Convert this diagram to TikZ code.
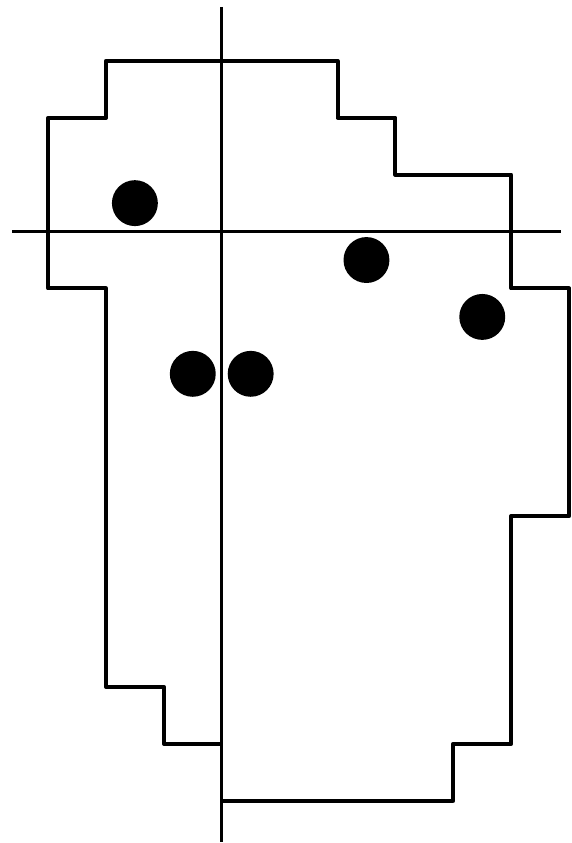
\documentclass[tikz,border=0pt]{standalone}
\usepackage{tikz}
\tikzset{
    axisline/.style={
        draw=black,
        line width=0.85pt
    },
    outline/.style={
        draw=black,
        line width=1.15pt,
        line join=round
    },
    dot/.style={
        circle,
        fill=black,
        minimum size=4.6mm,
        inner sep=0pt
    }
}

\begin{document}
\begin{tikzpicture}[x=0.58cm, y=0.57cm]
    % Axes
    \coordinate (axisTop)    at (0, 3.95);
    \coordinate (axisBottom) at (0, -10.72);
    \coordinate (axisLeft)   at (-3.62, 0);
    \coordinate (axisRight)  at (5.86, 0);
    \draw[axisline] (axisTop) -- (axisBottom);
    \draw[axisline] (axisLeft) -- (axisRight);

    % Region outline (closed along the vertical axis)
    \draw[outline] (0,-9) -- (-1,-9) -- (-1,-8) -- (-2,-8) -- (-2,-1)
                   -- (-3,-1) -- (-3,2) -- (-2,2) -- (-2,3) -- (2,3)
                   -- (2,2) -- (3,2) -- (3,1) -- (5,1) -- (5,-1)
                   -- (6,-1) -- (6,-5) -- (5,-5) -- (5,-9) -- (4,-9)
                   -- (4,-10) -- (0,-10);

    % Points
    \node[dot] (pA) at (-1.5, 0.5)  {};
    \node[dot] (pB) at (2.5, -0.5)  {};
    \node[dot] (pC) at (4.5, -1.5)  {};
    \node[dot] (pD) at (-0.5, -2.5) {};
    \node[dot] (pE) at (0.5, -2.5)  {};

    % Helpers
    \useasboundingbox (-3.83, -10.72) rectangle (6.03, 4.07);
\end{tikzpicture}
\end{document}
